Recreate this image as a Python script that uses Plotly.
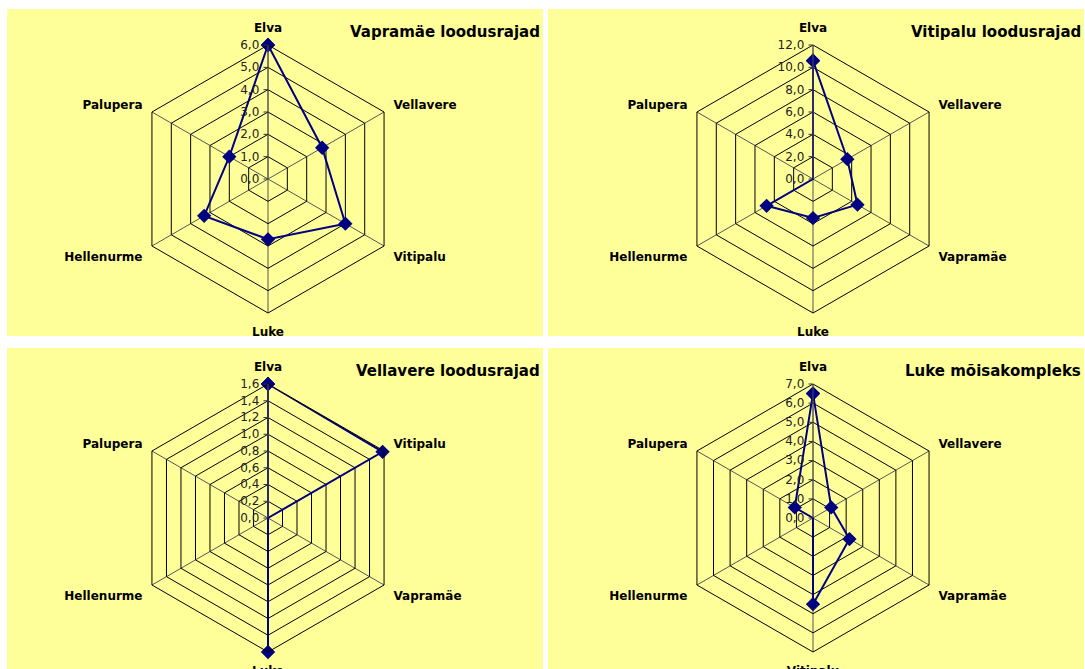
import plotly.graph_objects as go

# Vapramäe loodusrajad
VAP_CATS = ["Elva", "Vellavere", "Vitipalu", "Luke", "Hellenurme", "Palupera"]
VAP_VALS = [6.0, 2.8, 4.0, 2.7, 3.3, 2.0]

# Vitipalu loodusrajad
VIT_CATS = ["Elva", "Vellavere", "Vapramäe", "Luke", "Hellenurme", "Palupera"]
VIT_VALS = [10.6, 3.55, 4.6, 3.5, 4.8, 0.0]

# Vellavere loodusrajad
VEL_CATS = ["Elva", "Vitipalu", "Vapramäe", "Luke", "Hellenurme", "Palupera"]
VEL_VALS = [1.6, 1.58, 0.0, 1.6, 0.0, 0.0]

# Luke mõisakompleks
LUK_CATS = ["Elva", "Vellavere", "Vapramäe", "Vitipalu", "Hellenurme", "Palupera"]
LUK_VALS = [6.5, 1.1, 2.2, 4.5, 0.0, 1.1]

TITLES = ["Vapramäe loodusrajad", "Vitipalu loodusrajad",
          "Vellavere loodusrajad", "Luke mõisakompleks"]
RANGES = [(6, 1), (12, 2), (1.6, 0.2), (7, 1)]

W, H = 1085, 669
NAVY = "#000080"
YELLOW = "#FFFF99"
FONT = "DejaVu Sans"

# panel boxes in pixels (x0, y0, x1, y1 from top-left) and chart centres
panels = [(7, 9, 543, 336), (548, 9, 1084, 336),
          (7, 348, 543, 669), (548, 348, 1084, 669)]
centres = [(268, 179), (813, 179), (268, 518), (813, 518)]
R = 134

data = [(VAP_CATS, VAP_VALS), (VIT_CATS, VIT_VALS),
        (VEL_CATS, VEL_VALS), (LUK_CATS, LUK_VALS)]

fig = go.Figure()
layout = {}
shapes = []
annotations = []

for i, ((cats, vals), (rmax, step), title) in enumerate(zip(data, RANGES, TITLES)):
    name = "polar" if i == 0 else f"polar{i + 1}"
    fig.add_trace(go.Scatterpolar(
        r=vals + vals[:1], theta=cats + cats[:1],
        mode="lines+markers",
        line=dict(color=NAVY, width=2),
        marker=dict(symbol="diamond", size=11, color=NAVY),
        subplot=name, showlegend=False, cliponaxis=False,
    ))
    cx, cy = centres[i]
    layout[name] = dict(
        domain=dict(x=[(cx - R) / W, (cx + R) / W],
                    y=[(H - cy - R) / H, (H - cy + R) / H]),
        bgcolor="rgba(0,0,0,0)",
        gridshape="linear",
        radialaxis=dict(
            range=[0, rmax], dtick=step, tick0=0, angle=90, tickangle=90,
            side="counterclockwise", tickformat=".1f",
            showline=True, linecolor="#555", linewidth=1,
            ticks="outside", ticklen=4, tickcolor="#333",
            gridcolor="black", gridwidth=1,
            tickfont=dict(family=FONT, size=12, color="#222"),
            layer="above traces",
        ),
        angularaxis=dict(
            rotation=90, direction="clockwise",
            categoryorder="array", categoryarray=cats,
            showline=True, linecolor="black", linewidth=1,
            gridcolor="#555", gridwidth=1,
            ticks="outside", ticklen=8, tickcolor="rgba(0,0,0,0)",
            tickfont=dict(family=FONT, size=12, color="black", weight="bold"),
        ),
    )
    x0, y0, x1, y1 = panels[i]
    shapes.append(dict(type="rect", xref="paper", yref="paper", layer="below",
                       x0=x0 / W, x1=x1 / W, y0=1 - y1 / H, y1=1 - y0 / H,
                       fillcolor=YELLOW, line=dict(width=0)))
    annotations.append(dict(
        text=f"<b>{title}</b>", xref="paper", yref="paper",
        x=(x1 - 1) / W, y=1 - (y0 + 23) / H, xanchor="right", yanchor="middle",
        showarrow=False, font=dict(family=FONT, size=15, color="black"),
    ))

fig.update_layout(
    width=W, height=H,
    margin=dict(l=0, r=0, t=0, b=0),
    paper_bgcolor="white", plot_bgcolor="white",
    separators=", ",
    shapes=shapes, annotations=annotations,
    **layout,
)

# the page's default body margin would shift the figure by 8px
fig.write_html("out.html", config={"displayModeBar": False},
               post_script="document.body.style.margin='0';")
